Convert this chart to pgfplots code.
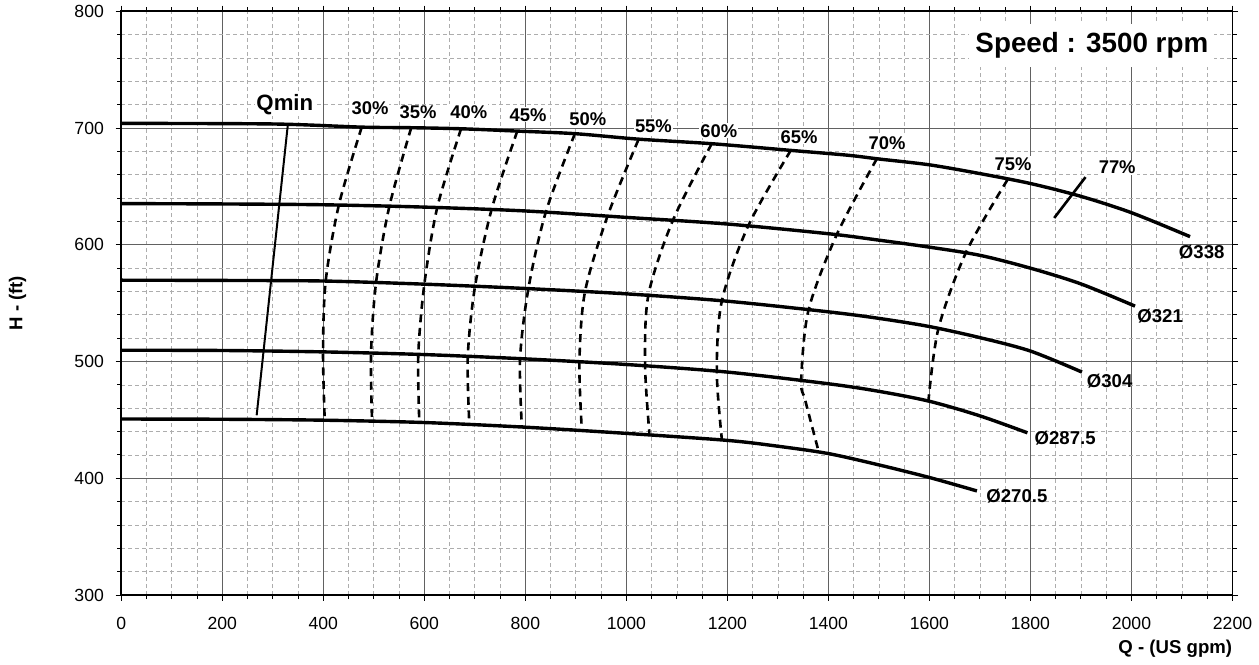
\documentclass[border=0pt]{standalone}
\usepackage{fontspec}
\setmainfont{Liberation Sans}
\usepackage{pgfplots}
\pgfplotsset{compat=1.18}
\tikzset{
 pct/.style={font=\bfseries\fontsize{9.2bp}{11bp}\selectfont, fill=white, inner sep=0.5bp},
 dia/.style={font=\bfseries\fontsize{9.3bp}{11bp}\selectfont, inner sep=0pt},
 curve/.style={black, line width=1.7bp, smooth},
 eff/.style={black, line width=1.3bp, dash pattern=on 4bp off 2.8bp, smooth},
}
\begin{document}
\begin{tikzpicture}
\begin{axis}[
 scale only axis,
 width=555.6bp, height=291.9bp,
 xmin=0, xmax=2200, ymin=300, ymax=800,
 xtick={0,200,...,2200}, ytick={300,400,...,800},
 minor x tick num=3, minor y tick num=4,
 tick align=outside,
 major tick length=2.8bp, minor tick length=2bp,
 tick style={black, line width=0.5bp},
 grid=both,
 major grid style={solid, color=black!62, line width=0.5bp},
 minor grid style={dash pattern=on 2bp off 1.5bp, color=black!32, line width=0.4bp},
 axis line style={black, line width=0.8bp},
 ticklabel style={font=\fontsize{8.8bp}{10bp}\selectfont},
 /pgf/number format/assume math mode=true,
 /pgf/number format/1000 sep={},
 xticklabel style={yshift=-4.5bp},
 yticklabel style={xshift=-2.4bp},
 xlabel={Q - (US gpm)},
 ylabel={H - (ft)},
 label style={font=\bfseries\fontsize{9.3bp}{11bp}\selectfont},
 xlabel style={at={(axis description cs:1,0)}, anchor=base east, yshift=-29.2bp, inner sep=0pt},
 ylabel style={at={(axis description cs:0,0.5)}, anchor=center, yshift=51.9bp, inner sep=0pt},
 clip=false,
]
% diameter curves
\addplot[curve] coordinates {(0,704) (300,703.5) (476,700.8) (574,700.3) (672,699.4) (784,697.4) (898,695.2) (1024,690.5) (1169,686.6) (1325,680.9) (1439,676.7) (1500,673.5) (1600,668.5) (1700,661) (1800,652.5) (1900,641.5) (2000,627.5) (2116,607)};
\addplot[curve] coordinates {(0,635.3) (200,635) (400,634.3) (600,632.3) (800,629) (1000,623.5) (1200,617.8) (1400,609.5) (1500,604) (1600,598) (1700,591) (1800,580) (1900,566.5) (2007,547.5)};
\addplot[curve] coordinates {(0,569.7) (200,569.5) (400,569) (600,566.3) (800,562.6) (1000,558) (1200,551.7) (1400,542.6) (1500,537) (1600,530) (1700,520.5) (1800,509) (1902,491)};
\addplot[curve] coordinates {(0,509.7) (200,509.5) (400,508.3) (600,506) (800,502.3) (1000,497.5) (1200,491) (1400,481) (1500,474.5) (1600,466) (1700,453.5) (1794,439)};
\addplot[curve] coordinates {(0,450.8) (200,450.6) (400,449.8) (600,447.8) (800,443.8) (1000,438.5) (1200,432.5) (1300,427.5) (1400,421.2) (1500,411.5) (1601,400.6) (1694,389.2)};
% efficiency curves
\addplot[eff] coordinates {(476,700.8) (431,634.6) (404.7,569.1) (399.4,508.3) (402.7,450.6)};
\addplot[eff] coordinates {(574,700.3) (530.7,632.9) (504.4,567.8) (494.5,507.4) (496.4,449.7)};
\addplot[eff] coordinates {(672.7,699.4) (625.7,632.3) (600,566.3) (588,506) (590,448.3)};
\addplot[eff] coordinates {(784,697.4) (733.5,630.9) (700.4,564.6) (686,504.6) (689,446.9)};
\addplot[eff] coordinates {(898,695.2) (840.4,628) (806,562.6) (789.5,502.6) (793,444.6)};
\addplot[eff] coordinates {(1023.8,690) (962.4,624.3) (918,559.7) (907,499.7) (911.7,441.8)};
\addplot[eff] coordinates {(1169,686.6) (1092,620.9) (1043.6,557) (1037,497) (1045.5,439)};
\addplot[eff] coordinates {(1325.5,680.9) (1241.6,616.6) (1189,552) (1179,491.5) (1189,433.3)};
\addplot[eff] coordinates {(1495.8,673.7) (1416.6,608.9) (1360.5,544) (1346,483.4) (1354,467) (1380,424)};
\addplot[eff] coordinates {(1754.5,655.7) (1672.7,593.8) (1617.8,528.3) (1598,466.3)};
% 77% marker and Qmin
\addplot[black, line width=1.3bp] coordinates {(1847,623) (1909,658)};
\addplot[black, line width=1bp] coordinates {(330,704) (268,454)};
% labels
\node[pct] at (492.5,716.9) {30\%};
\node[pct] at (587.6,713.5) {35\%};
\node[pct] at (688,713.9) {40\%};
\node[pct] at (805.3,711.3) {45\%};
\node[pct] at (923.8,707.3) {50\%};
\node[pct] at (1053.5,701.9) {55\%};
\node[pct] at (1183,697.6) {60\%};
\node[pct] at (1342,692.5) {65\%};
\node[pct] at (1516,687.3) {70\%};
\node[pct] at (1765.4,669.4) {75\%};
\node[pct] at (1971.7,666.5) {77\%};
\node[pct, font=\bfseries\fontsize{11.1bp}{13bp}\selectfont] at (323.8,719.7) {Qmin};
\node[dia] at (2139,593.3) {Ø338};
\node[dia] at (2056.8,539.3) {Ø321};
\node[dia] at (1956.8,483.6) {Ø304};
\node[dia] at (1868.7,434.7) {Ø287.5};
\node[dia] at (1773.1,385) {Ø270.5};
\node[fill=white, inner xsep=3bp, inner ysep=0pt, minimum height=21.5bp, font=\bfseries\fontsize{13.9bp}{16bp}\selectfont] at (1921.6,770.9) {Speed : 3500 rpm};
\end{axis}
\pgfresetboundingbox
\path ([xshift=-60.65bp,yshift=-34.5bp]current axis.south west) rectangle ([xshift=13.25bp,yshift=5.65bp]current axis.north east);
\end{tikzpicture}
\end{document}
